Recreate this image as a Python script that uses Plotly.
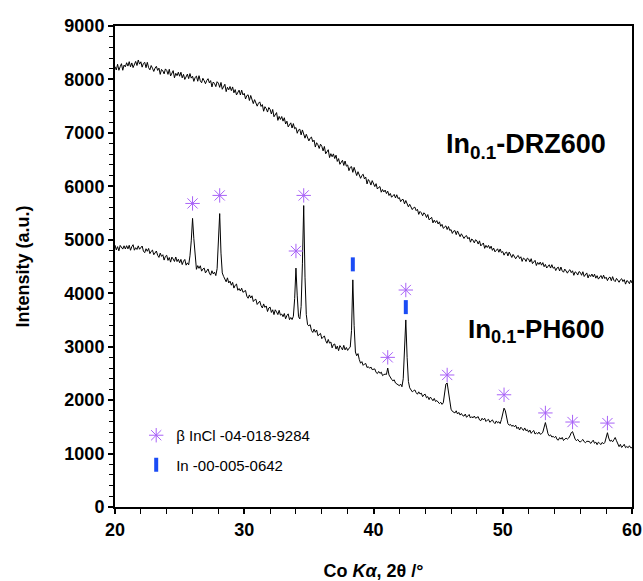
import numpy as np
import plotly.graph_objects as go

# 2-theta grid (Co K-alpha), 0.1 degree step from 20 to 60
two_theta = np.round(np.linspace(20, 60, 401), 1)

# Intensity of In0.1-DRZ600 (one row per degree, 0.1 degree step)
drz600 = [
    8240, 8177, 8284, 8171, 8238, 8295, 8172, 8269, 8236, 8313,
    8250, 8333, 8236, 8309, 8222, 8295, 8338, 8261, 8364, 8287,
    8330, 8230, 8300, 8320, 8220, 8320, 8220, 8180, 8260, 8210,
    8150, 8213, 8246, 8169, 8212, 8095, 8188, 8161, 8104, 8197,
    8170, 8095, 8190, 8065, 8120, 8165, 8030, 8115, 8070, 8135,
    8060, 8135, 8030, 8095, 8000, 8065, 8100, 8015, 8110, 8025,
    8060, 7964, 8038, 8062, 7966, 8070, 7974, 7938, 8022, 7976,
    7920, 7982, 8014, 7936, 7978, 7860, 7952, 7924, 7866, 7958,
    7930, 7852, 7944, 7816, 7868, 7910, 7772, 7854, 7806, 7868,
    7790, 7860, 7750, 7810, 7710, 7770, 7800, 7710, 7800, 7710,
    7740, 7634, 7698, 7712, 7606, 7700, 7594, 7548, 7622, 7566,
    7500, 7555, 7580, 7495, 7530, 7405, 7490, 7455, 7390, 7475,
    7440, 7354, 7438, 7302, 7346, 7380, 7234, 7308, 7252, 7306,
    7220, 7283, 7166, 7219, 7112, 7165, 7188, 7091, 7174, 7077,
    7100, 6993, 7056, 7069, 6962, 7055, 6948, 6901, 6974, 6917,
    6850, 6901, 6922, 6833, 6864, 6735, 6816, 6777, 6708, 6789,
    6750, 6663, 6746, 6609, 6652, 6685, 6538, 6611, 6554, 6607,
    6520, 6583, 6466, 6519, 6412, 6465, 6488, 6391, 6474, 6377,
    6400, 6293, 6356, 6369, 6262, 6355, 6248, 6201, 6274, 6217,
    6150, 6203, 6226, 6139, 6172, 6045, 6128, 6091, 6024, 6107,
    6060, 5995, 6050, 5950, 5980, 5995, 5890, 5940, 5895, 5930,
    5865, 5909, 5828, 5867, 5796, 5835, 5849, 5783, 5842, 5771,
    5790, 5713, 5751, 5754, 5672, 5735, 5653, 5616, 5664, 5617,
    5565, 5600, 5610, 5545, 5570, 5475, 5530, 5505, 5450, 5505,
    5480, 5416, 5472, 5373, 5404, 5420, 5316, 5367, 5323, 5359,
    5295, 5336, 5252, 5288, 5214, 5250, 5261, 5192, 5248, 5174,
    5190, 5119, 5163, 5172, 5096, 5165, 5089, 5058, 5112, 5071,
    5025, 5064, 5078, 5017, 5046, 4955, 5014, 4993, 4942, 5001,
    4980, 4920, 4980, 4885, 4920, 4940, 4840, 4895, 4855, 4895,
    4835, 4881, 4802, 4843, 4774, 4815, 4831, 4767, 4828, 4759,
    4780, 4712, 4759, 4771, 4698, 4770, 4697, 4669, 4726, 4688,
    4645, 4688, 4706, 4649, 4682, 4595, 4658, 4641, 4594, 4657,
    4640, 4583, 4646, 4554, 4592, 4615, 4518, 4576, 4539, 4582,
    4525, 4573, 4496, 4539, 4472, 4515, 4533, 4471, 4534, 4467,
    4490, 4424, 4473, 4487, 4416, 4490, 4419, 4393, 4452, 4416,
    4375, 4420, 4440, 4385, 4420, 4335, 4400, 4385, 4340, 4405,
    4390, 4336, 4402, 4313, 4354, 4380, 4286, 4347, 4313, 4359,
    4305, 4356, 4282, 4328, 4264, 4310, 4331, 4272, 4338, 4274,
    4300, 4236, 4287, 4303, 4234, 4310, 4241, 4217, 4278, 4244,
    4205, 4251, 4272, 4218, 4254, 4170, 4236, 4222, 4178, 4244,
    4190,
]

# Intensity of In0.1-PH600 (one row per degree, 0.1 degree step)
ph600 = [
    4900, 4811, 4872, 4793, 4894, 4865, 4826, 4887, 4828, 4889,
    4830, 4897, 4804, 4871, 4908, 4805, 4852, 4819, 4886, 4823,
    4850, 4883, 4786, 4759, 4832, 4785, 4838, 4741, 4784, 4807,
    4720, 4760, 4790, 4710, 4670, 4750, 4690, 4720, 4620, 4690,
    4710, 4614, 4668, 4582, 4676, 4640, 4594, 4678, 4592, 4636,
    4570, 4633, 4536, 4599, 4632, 4525, 4568, 4531, 4700, 4980,
    5400, 5020, 4680, 4447, 4516, 4465, 4514, 4413, 4452, 4471,
    4380, 4422, 4454, 4376, 4338, 4420, 4362, 4394, 4330, 4460,
    4900, 5490, 4750, 4380, 4316, 4270, 4214, 4288, 4192, 4226,
    4150, 4203, 4096, 4149, 4172, 4055, 4088, 4041, 4094, 4017,
    4030, 4052, 3944, 3906, 3968, 3910, 3952, 3844, 3876, 3888,
    3790, 3826, 3852, 3768, 3724, 3800, 3736, 3762, 3658, 3724,
    3740, 3640, 3690, 3600, 3690, 3650, 3600, 3680, 3590, 3610,
    3560, 3621, 3522, 3583, 3614, 3505, 3546, 3507, 3568, 3900,
    4470, 3950, 3560, 3520, 3750, 4550, 5640, 4300, 3600, 3410,
    3390, 3412, 3304, 3266, 3328, 3270, 3312, 3204, 3236, 3248,
    3150, 3181, 3202, 3113, 3064, 3135, 3066, 3087, 2978, 3039,
    3050, 2955, 3010, 2925, 3020, 2985, 2940, 3025, 2940, 2985,
    2930, 2970, 2990, 3300, 4250, 3400, 2900, 2830, 2870, 2760,
    2690, 2720, 2650, 2675, 2685, 2610, 2625, 2595, 2620, 2570,
    2570, 2584, 2518, 2497, 2536, 2500, 2524, 2458, 2477, 2486,
    2480, 2600, 2470, 2420, 2390, 2360, 2380, 2320, 2300, 2280,
    2270, 2300, 2250, 2400, 3000, 3500, 2800, 2350, 2230, 2190,
    2155, 2175, 2190, 2140, 2110, 2155, 2115, 2130, 2065, 2100,
    2110, 2043, 2066, 2009, 2057, 2025, 1988, 2031, 1974, 1992,
    1950, 1935, 1960, 1920, 1950, 2100, 2300, 2320, 2150, 1900,
    1830, 1790, 1780, 1760, 1800, 1740, 1770, 1720, 1750, 1710,
    1700, 1739, 1678, 1712, 1731, 1665, 1689, 1668, 1702, 1661,
    1670, 1690, 1630, 1615, 1660, 1630, 1660, 1600, 1625, 1640,
    1585, 1610, 1630, 1585, 1560, 1610, 1575, 1595, 1560, 1640,
    1780, 1850, 1800, 1680, 1560, 1530, 1545, 1510, 1530, 1500,
    1530, 1467, 1494, 1441, 1493, 1465, 1432, 1479, 1426, 1448,
    1400, 1439, 1378, 1412, 1431, 1365, 1389, 1368, 1402, 1361,
    1370, 1400, 1500, 1580, 1480, 1370, 1330, 1350, 1310, 1320,
    1300, 1322, 1264, 1251, 1298, 1270, 1302, 1244, 1270, 1288,
    1270, 1290, 1330, 1390, 1410, 1330, 1270, 1240, 1265, 1230,
    1215, 1241, 1264, 1222, 1202, 1230, 1228, 1226, 1189, 1222,
    1250, 1192, 1214, 1166, 1213, 1190, 1168, 1209, 1181, 1210,
    1300, 1390, 1290, 1230, 1250, 1220, 1260, 1300, 1240, 1180,
    1130, 1172, 1114, 1141, 1173, 1110, 1132, 1109, 1146, 1108,
    1110,
]

# Reflection markers: beta-InCl (PDF 04-018-9284)
incl_pos = [26.0, 28.1, 34.0, 34.6, 41.1, 42.5, 45.7, 50.1, 53.3, 55.4, 58.1]
incl_mark = [5680, 5830, 4790, 5830, 2800, 4060, 2470, 2100, 1760, 1590, 1570]

# Reflection markers: In metal (PDF 00-005-0642)
in_pos = [38.4, 42.5]
in_mark = [4540, 3740]

FONT = "Liberation Sans, Arial, Helvetica, sans-serif"
PURPLE = "#a862f7"
BLUE = "#1b4cf5"

fig = go.Figure()

fig.add_trace(go.Scatter(
    x=two_theta, y=drz600, mode="lines",
    line=dict(color="black", width=1), showlegend=False, hoverinfo="skip"))
fig.add_trace(go.Scatter(
    x=two_theta, y=ph600, mode="lines",
    line=dict(color="black", width=1), showlegend=False, hoverinfo="skip"))

fig.add_trace(go.Scatter(
    x=incl_pos, y=incl_mark, mode="markers", name="β InCl -04-018-9284",
    legendgroup="incl",
    marker=dict(symbol="asterisk-open", size=12, color=PURPLE,
                line=dict(color=PURPLE, width=1))))
fig.add_trace(go.Scatter(
    x=in_pos, y=in_mark, mode="markers", name="In -00-005-0642",
    legendgroup="in",
    marker=dict(symbol="line-ns-open", size=10, color=BLUE,
                line=dict(color=BLUE, width=4))))

fig.add_annotation(x=51.8, y=6760, text="<b>In<sub>0.1</sub>-DRZ600</b>",
                   showarrow=False, font=dict(family=FONT, size=27, color="black"))
fig.add_annotation(x=52.6, y=3310, text="<b>In<sub>0.1</sub>-PH600</b>",
                   showarrow=False, font=dict(family=FONT, size=26, color="black"))

fig.update_layout(
    width=643, height=581,
    margin=dict(l=115, r=11, t=26, b=74),
    paper_bgcolor="white", plot_bgcolor="white",
    font=dict(family=FONT, color="black"),
    legend=dict(x=0.041, y=0.183, xanchor="left", yanchor="top",
                bgcolor="rgba(0,0,0,0)", tracegroupgap=7,
                font=dict(family=FONT, size=15, color="black")),
    xaxis=dict(
        range=[20, 60], dtick=10, tick0=20, automargin=False,
        showgrid=False, zeroline=False,
        showline=True, linecolor="black", linewidth=2, mirror=True,
        ticks="outside", ticklen=5, tickwidth=1.5, tickcolor="black",
        minor=dict(dtick=2, ticks="outside", ticklen=5, tickwidth=1.2,
                   tickcolor="black", showgrid=False),
        tickfont=dict(family=FONT, size=18, weight="bold"),
        title=dict(text="<b>Co <i>Kα</i>, 2θ /°</b>", standoff=26,
                   font=dict(family=FONT, size=18)),
    ),
    yaxis=dict(
        range=[0, 9000], dtick=1000, automargin=False,
        showgrid=False, zeroline=False,
        showline=True, linecolor="black", linewidth=2, mirror=True,
        ticks="outside", ticklen=5, tickwidth=1.5, tickcolor="black",
        minor=dict(dtick=200, ticks="outside", ticklen=4, tickwidth=1.2,
                   tickcolor="black", showgrid=False),
        tickfont=dict(family=FONT, size=18, weight="bold"),
        title=dict(text="<b>Intensity (a.u.)</b>", standoff=30,
                   font=dict(family=FONT, size=18)),
    ),
)

fig.write_html("out.html")
